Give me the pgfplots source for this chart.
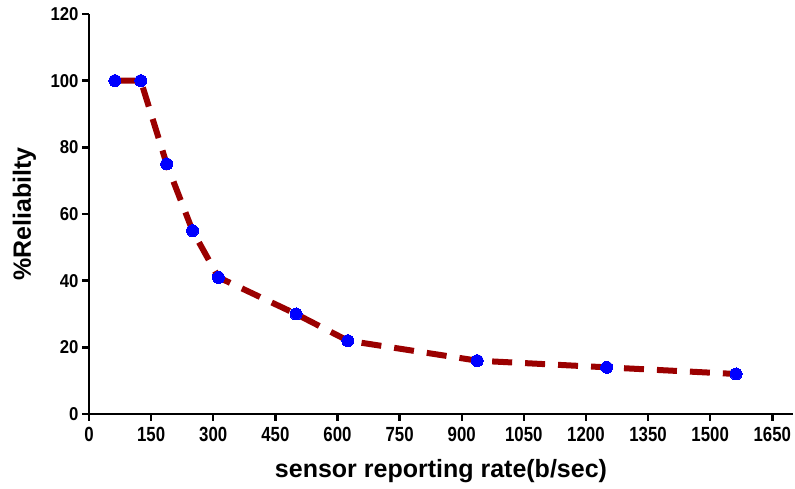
\documentclass[border=0pt]{standalone}
\usepackage{fontspec}
\setmainfont{Liberation Sans}
\newfontfamily\xcond{Liberation Sans}[FakeStretch=0.82]
\newfontfamily\ycond{Liberation Sans}[FakeStretch=0.9]
\usepackage{pgfplots}
\pgfplotsset{compat=1.18}
\definecolor{dred}{RGB}{155,0,0}
\pgfplotstableread{
x y
62.5 100
125 100
187.5 75
250 55
312.5 41
500 30
625 22
937.5 16
1250 14
1562.5 12
}\reldata
\begin{document}
\begin{tikzpicture}
\path[use as bounding box] (-89pt,-75pt) rectangle (706pt,414pt);
\begin{axis}[
  at={(0pt,0pt)}, anchor=south west,
  scale only axis, width=704pt, height=400pt,
  xmin=0, xmax=1700, ymin=0, ymax=120,
  axis lines*=left,
  axis line style={line width=2.4pt, black},
  xtick={0,150,...,1650}, ytick={0,20,...,120},
  tick align=outside, major tick length=7pt,
  tick style={line width=2.4pt, black},
  xticklabel style={font=\fontsize{20.5}{22}\xcond\bfseries, yshift=-3pt},
  yticklabel style={font=\fontsize{18.6}{20}\ycond\bfseries},
  /pgf/number format/assume math mode=true,
  /pgf/number format/set thousands separator={},
  xlabel={sensor reporting rate(b/sec)},
  ylabel={\%Reliabilty},
  label style={font=\fontsize{25}{28}\selectfont\bfseries},
  xlabel style={at={(axis description cs:0.5,-0.16)}, anchor=base},
  ylabel style={at={(axis description cs:-0.0824,0.5)}, anchor=base},
  clip=false,
]
\addplot[color=dred, line width=6pt, dash pattern=on 20pt off 13pt,
  mark=*, mark size=6pt, mark options={solid, fill=blue, draw=blue, line width=0pt}]
  table[x=x, y=y] {\reldata};
\end{axis}
\end{tikzpicture}
\end{document}
